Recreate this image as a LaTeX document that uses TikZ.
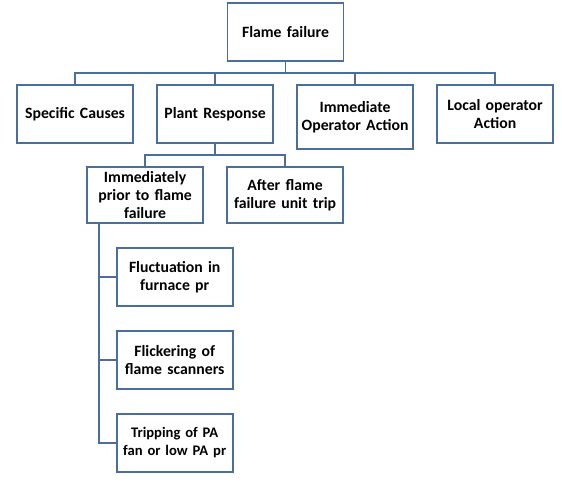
\documentclass[tikz,border=0pt]{standalone}
\usepackage{fontspec}
\setmainfont{Carlito}
\usetikzlibrary{positioning}
\definecolor{boxblue}{RGB}{74,110,158}

\begin{document}
\begin{tikzpicture}[node distance=0.6cm,
                every node/.style = {shape=rectangle, draw=boxblue, line width=1.3pt,
                                     text width=2.85cm, minimum width=2.9cm, minimum height=1.45cm,
                                     inner xsep=0.5pt, inner ysep=0pt, outer sep=0pt, align=center,
                                     font=\fontsize{11.2}{12.8}\selectfont\bfseries},
                tree/.style = {draw=boxblue, line width=1.3pt,
                               to path={(\tikztostart) -- ++(0,-0.3) -| (\tikztotarget)}},
                spine/.style = {draw=boxblue, line width=1.3pt,
                                to path={(\tikztostart) |- (\tikztotarget)}}]
            \useasboundingbox (-7.1375,0.8) rectangle (6.9125,-11.25);

            \node (f_flame) {Flame failure};

            \node (f_causes) [below = of f_flame.south, xshift=-5.26cm] {Specific Causes};
            \node (f_response) [right = of f_causes.north east, anchor=north west] {Plant Response};
            \node (f_operator) [right = of f_response.north east, anchor=north west, minimum height=1.6cm] {Immediate \\ Operator Action};
            \node (f_local) [right = of f_operator.north east, anchor=north west] {Local operator \\ Action};

            \node (f_prior) [below = of f_response.south, xshift=-1.75cm, minimum height=1.4cm] {Immediately \\ prior to flame \\ failure};
            \node (f_trip) [right = of f_prior, minimum height=1.4cm] {After flame \\ failure unit trip};

            \node (f_fluct) [below = 0.625 of f_prior.south, xshift=0.74cm] {Fluctuation in \\ furnace pr};
            \node (f_flicker) [below = 0.625 of f_fluct] {Flickering of \\ flame scanners};
            \node (f_pafan) [below = 0.625 of f_flicker, font=\fontsize{10.4}{12.8}\selectfont\bfseries] {Tripping of PA \\ fan or low PA pr};

            \path[tree]
            (f_flame.south)     edge (f_causes.north)
            (f_flame.south)     edge (f_response.north)
            (f_flame.south)     edge (f_operator.north)
            (f_flame.south)     edge (f_local.north)
            (f_response.south)  edge (f_prior.north)
            (f_response.south)  edge (f_trip.north);

            \path[spine]
            ([xshift=0.3cm]f_prior.south west) edge (f_fluct.west)
            ([xshift=0.3cm]f_prior.south west) edge (f_flicker.west)
            ([xshift=0.3cm]f_prior.south west) edge (f_pafan.west);
        \end{tikzpicture}
\end{document}
